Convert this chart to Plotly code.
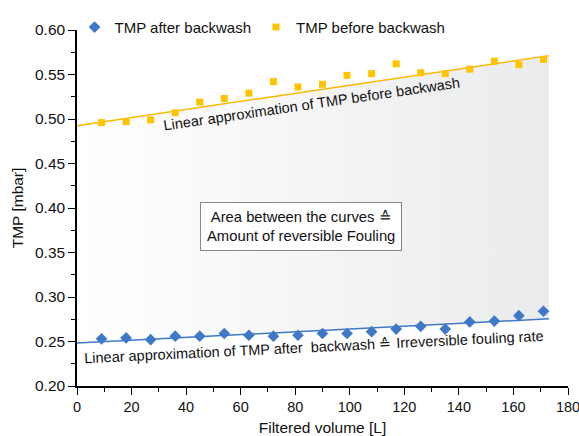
import plotly.graph_objects as go

# filtered volume [L] at each measurement
volume = [9, 18, 27, 36, 45, 54, 63, 72, 81, 90, 99, 108, 117, 126, 135, 144, 153, 162, 171]

# TMP [mbar] before and after backwash
tmp_before = [0.496, 0.497, 0.499, 0.507, 0.519, 0.523, 0.529, 0.542, 0.536, 0.539,
              0.549, 0.551, 0.562, 0.552, 0.551, 0.556, 0.565, 0.561, 0.567]
tmp_after = [0.253, 0.254, 0.252, 0.256, 0.256, 0.259, 0.257, 0.256, 0.257, 0.259,
             0.259, 0.261, 0.264, 0.267, 0.264, 0.272, 0.273, 0.279, 0.284]

# linear approximations: intercept, slope
fit_before = (0.4925, 0.000455)
fit_after = (0.2482, 0.000158)
fit_range = [0, 173]

YELLOW = "#ffc300"
BLUE = "#3f78c8"
FONT = "Liberation Sans, Arial, sans-serif"


def fit_line(fit):
    a, b = fit
    return [a + b * x for x in fit_range]


fig = go.Figure()

# lower fit line (also the base of the filled area)
fig.add_trace(go.Scatter(
    x=fit_range, y=fit_line(fit_after), mode="lines",
    line=dict(color=BLUE, width=1.5), showlegend=False, hoverinfo="skip",
))
# upper fit line, filled down to the lower one
fig.add_trace(go.Scatter(
    x=fit_range, y=fit_line(fit_before), mode="lines",
    line=dict(color="#f7b900", width=1.5), showlegend=False, hoverinfo="skip",
    fill="tonexty",
    fillgradient=dict(type="horizontal", colorscale=[[0, "#ffffff"], [1, "#eaebec"]]),
))

fig.add_trace(go.Scatter(
    x=volume, y=tmp_after, mode="markers", name="TMP after backwash",
    marker=dict(symbol="diamond", size=9, color=BLUE),
))
fig.add_trace(go.Scatter(
    x=volume, y=tmp_before, mode="markers", name="TMP before backwash",
    marker=dict(symbol="square", size=7, color=YELLOW),
))

ann_font = dict(size=14.5, color="#111")
fig.add_annotation(
    x=86, y=0.517, text="Linear approximation of TMP before backwash",
    showarrow=False, textangle=-8.3, font=ann_font,
)
fig.add_annotation(
    x=87, y=0.2437, text="Linear approximation of TMP after  backwash \u2259 Irreversible fouling rate",
    showarrow=False, textangle=-2.8, font=ann_font,
)
fig.add_annotation(
    x=82, y=0.3793, text="Area between the curves \u2259<br>Amount of reversible Fouling",
    showarrow=False, font=dict(size=14.8, color="#111"),
    bgcolor="white", bordercolor="#888", borderwidth=1, borderpad=6,
)

axis_common = dict(
    showline=True, linecolor="black", linewidth=1.5, ticks="outside",
    ticklen=7, tickwidth=1.2, tickcolor="black", showgrid=False, zeroline=False,
    mirror=False, automargin=False, ticklabeloverflow="allow",
)

fig.update_xaxes(
    range=[0, 180], dtick=20, tickfont=dict(size=14.5, color="#111"),
    title=dict(text="Filtered volume [L]", font=dict(size=15.5), standoff=10),
    minor=dict(dtick=10, ticks="outside", ticklen=4, tickcolor="black"),
    **axis_common,
)
fig.update_yaxes(
    range=[0.20, 0.60], dtick=0.05, tickformat=".2f", tickfont=dict(size=15.5, color="#111"),
    title=dict(text="TMP [mbar]", font=dict(size=15.5), standoff=8),
    minor=dict(dtick=0.025, ticks="outside", ticklen=4, tickcolor="black"),
    **axis_common,
)

fig.update_layout(
    width=579, height=436,
    margin=dict(l=77, r=11, t=21, b=50),
    plot_bgcolor="white", paper_bgcolor="white",
    font=dict(family=FONT, color="#111"),
    legend=dict(
        orientation="h", x=-0.005, y=1.054, xanchor="left", yanchor="top",
        traceorder="normal", bgcolor="rgba(0,0,0,0)", font=dict(size=15),
    ),
)

# drop the default page margin so the figure sits at the window's corner
fig.write_html(
    "out.html",
    config={"displayModeBar": False},
    post_script="document.body.style.margin='0';",
)
